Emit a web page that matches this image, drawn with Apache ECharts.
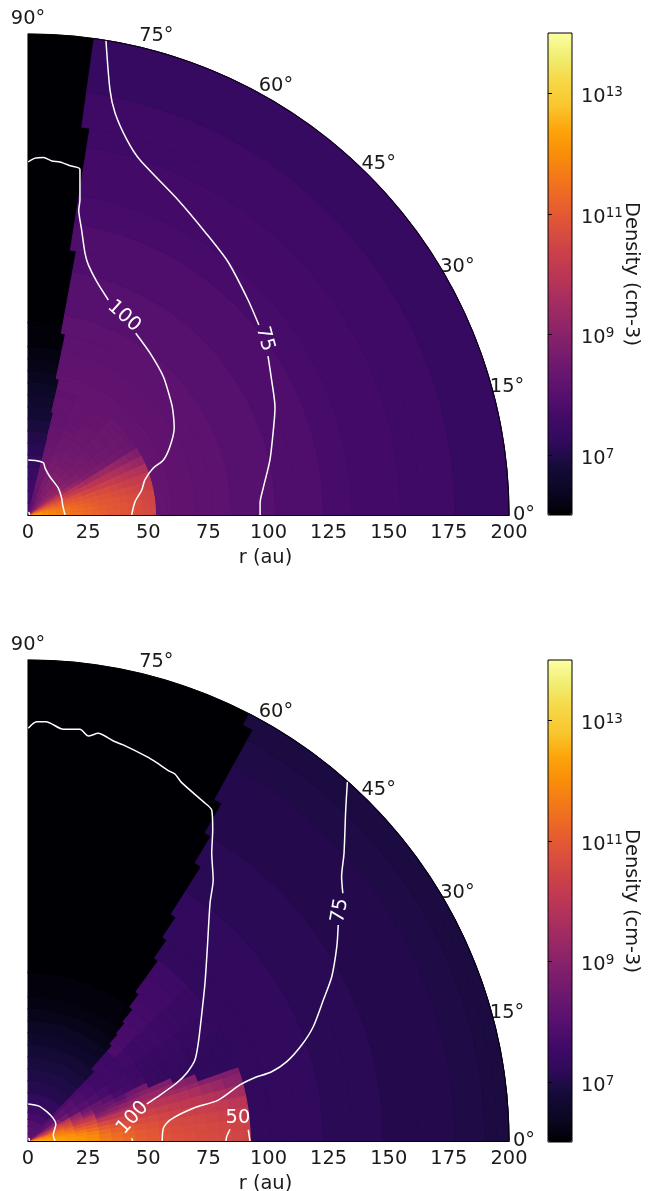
<!DOCTYPE html>
<html><head><meta charset="utf-8">
<style>html,body{margin:0;padding:0;background:#fff}#c{width:658px;height:1191px}</style>
<script src="https://cdn.jsdelivr.net/npm/echarts@6/dist/echarts.min.js"></script>
</head><body><div id="c"></div>
<script>
// ---------- shared ticks ----------
const radiusTicks=[0,25,50,75,100,125,150,175,200];
const angleTicks=[0,15,30,45,60,75,90];
const colorbarTicks=[7,9,11,13];
const infernoStops=['#000004','#0b0724','#160b39','#2f0a5b','#420a68','#57106e','#6a176e','#7e1e6c','#932667','#a82e5f','#bc3754','#cc4248','#dd513a','#ea632a','#f37819','#f98e09','#fca50a','#f9c72f','#f6d746','#f1ed71','#fcffa4'];

// ---------- top panel: log10 density ----------
const topConeR=[0,5,10,15,20,25,30,35,40,45,50,55,60,65,70,80,200];
const topConeLog=[7.75,7.6,7.5,7.42,7.3,7.12,7.0,6.85,6.7,6.58,6.45,6.35,6.25,6.15,6.08,6.0];
const topEdgeR=[0,33,44,58,76.8,111.6,162.9,200];
const topEdgeDeg=[75.6,76,77,78.3,79.6,80.9,82.1];
const topEnvR=[53,60,70,84.7,103,122.8,134.6,155,177.6,200];
const topEnvLog=[8.25,8.18,8.1,7.98,7.85,7.7,7.62,7.52,7.35];
const topDiskR=[0,3,6,9,12,15,18,21,24,27,30,33,36,39,42,45,48,51,53];
const topDiskDeg=[0,4,8,12,16,20,24,28,32,36,42,50,60,68,90];
const topDiskLog=[
[12.5,12.45,12.3,12.1,11.7,11.3,11,10.7,10.2,9.6,9.0,8.6,8.4,8.1],
[12.4,12.3,12.2,12,11.6,11.25,11,10.6,10.1,9.5,9.0,8.6,8.4,8.1],
[12.1,12,11.9,11.8,11.5,11.2,10.9,10.5,10,9.4,9.05,8.7,8.5,8.2],
[11.9,11.85,11.75,11.6,11.35,11.1,10.8,10.4,9.95,9.35,9.05,8.8,8.6,8.3],
[11.75,11.7,11.6,11.45,11.25,11,10.65,10.3,9.8,9.25,9,8.85,8.7,8.4],
[11.6,11.55,11.5,11.3,11.1,10.85,10.5,10.1,9.6,9.15,8.95,8.85,8.7,8.45],
[11.5,11.45,11.35,11.2,11,10.75,10.35,9.95,9.4,9,8.85,8.8,8.7,8.5],
[11.4,11.35,11.25,11.1,10.9,10.7,10.2,9.8,9.2,8.85,8.75,8.7,8.65,8.5],
[11.3,11.25,11.15,11,10.8,10.5,10.1,9.6,9,8.8,8.65,8.6,8.6,8.45],
[11.2,11.15,11.05,10.9,10.75,10.4,10,9.45,8.85,8.7,8.6,8.55,8.5,8.4],
[11.1,11.05,10.95,10.85,10.65,10.35,9.95,9.45,8.75,8.6,8.55,8.5,8.45,8.35],
[11,10.95,10.9,10.8,10.6,10.3,9.85,9.4,8.7,8.55,8.5,8.45,8.4,8.3],
[10.95,10.9,10.85,10.7,10.5,10.2,9.8,9.35,8.65,8.5,8.45,8.4,8.35,8.3],
[10.85,10.85,10.75,10.65,10.4,10.1,9.7,9.25,8.6,8.5,8.45,8.35,8.3,8.25],
[10.8,10.75,10.7,10.55,10.3,10.0,9.6,9.15,8.55,8.45,8.4,8.35,8.3,8.25],
[10.7,10.7,10.6,10.45,10.2,9.9,9.45,9.05,8.5,8.45,8.4,8.3,8.3,8.25],
[10.6,10.55,10.5,10.35,10.15,9.8,9.3,8.9,8.45,8.4,8.35,8.3,8.3,8.25],
[10.55,10.5,10.45,10.3,10.1,9.75,9.2,8.8,8.35,8.35,8.35,8.3,8.3,8.2]
];

// ---------- bottom panel: log10 density ----------
const botConeR=[0,3,6,9,12,15,20,25,30,35,40,45,50,55,60,70,200];
const botConeLog=[8.1,8.0,7.9,7.65,7.45,7.25,7.05,6.95,6.85,6.72,6.55,6.4,6.28,6.18,6.1,6.0];
const botEdgeR=[0,40,53,58,63.5,70,76.6,92.5,101.7,111.7,135,147.8,162,195,200];
const botEdgeDeg=[46,48.5,49.8,50.5,51.4,52.8,54.1,55.3,56.5,57.7,59,60.1,61.3,62.6];
const botEnvR=[92.4,100.6,122.8,147.7,177.6,190,200];
const botEnvLog=[7.27,7.25,7.12,7.03,6.95,6.88];
const botDiskR=[0,3,6,9,12,16,20,25,30,35,40,45,50,55,60,65,70,75,80,85,90,92.4];
const botDiskDeg=[0,3,6,9,12,15,18,19.5,22,24,26.5,30,36,44,62];
const botDiskLog=[
[12.6,12.6,12.5,12.3,12,11.8,11.4,11,10.7,10.4,10,9.4,8.5,8.2],
[12.6,12.5,12.4,12.2,12,11.7,11.3,10.9,10.6,10.3,9.9,9.2,8.3,8.1],
[12.5,12.4,12.3,12.1,11.9,11.6,11.1,10.7,10.4,10.1,9.8,9.0,8.1,8.0],
[12.4,12.35,12.2,12,11.8,11.6,11.3,11,10.6,10.2,9.8,9.0,8.2,8.0],
[12.35,12.3,12.2,12,11.8,11.6,11.4,11.2,10.9,10.6,10.2,9.0,8.2,7.95],
[12.25,12.2,12.1,11.9,11.6,11.3,11,10.8,10.6,10.4,9.9,8.6,8.2,7.9],
[12.15,12.1,11.95,11.65,11.2,10.75,10.4,10.1,9.8,9.55,9.2,8.2,8.0,7.85],
[12,11.95,11.75,11.4,11,10.6,10.25,10,9.4,8.9,8.5,8.0,7.8,7.75],
[11.65,11.55,11.35,11.05,10.6,10,9.35,8.9,8.55,8.45,8.3,7.85,7.7,7.65],
[11.45,11.35,11.15,10.9,10.5,10,9.4,9,8.65,8.4,8.05,7.75,7.6,7.6],
[11.3,11.2,11,10.75,10.5,10,9.5,9.1,8.6,8.15,7.75,7.6,7.55,7.55],
[11.05,11,10.85,10.65,10.4,10.05,9.6,9.2,8.8,8.5,7.65,7.55,7.5,7.5],
[10.95,10.9,10.8,10.6,10.35,10.05,9.6,9.3,8.95,8.6,7.55,7.5,7.6,7.8],
[10.85,10.8,10.7,10.5,10.25,9.95,9.55,9.25,8.9,7.38,7.38,7.42,7.5,7.75],
[10.75,10.7,10.6,10.4,10.15,9.85,9.45,9.15,8.8,7.35,7.35,7.4,7.5,7.7],
[10.7,10.65,10.55,10.35,10.05,9.75,9.35,9,7.33,7.33,7.35,7.4,7.5,7.65],
[10.65,10.6,10.5,10.3,10,9.65,9.2,8.85,7.3,7.3,7.32,7.38,7.48,7.62],
[10.6,10.55,10.45,10.25,9.85,9.45,8.95,7.25,7.25,7.25,7.28,7.35,7.45,7.6],
[10.55,10.5,10.35,10.15,9.75,9.3,8.85,7.22,7.22,7.22,7.25,7.33,7.42,7.55],
[10.5,10.45,10.25,10,9.6,9.05,8.8,7.22,7.22,7.22,7.22,7.3,7.4,7.5],
[10.45,10.4,10.2,9.95,9.5,9,8.75,7.22,7.22,7.22,7.22,7.3,7.4,7.5]
];

// ---------- contours, points in au [x, z] ----------
const top75a=[[32.4,197.5],[34.1,176.7],[36.2,167.2],[41.2,155.9],[46.6,147.6],[62.4,131],[73.6,117.7],[83.2,105.2],[91.5,89.4],[96,79]];
const top75b=[[99.8,66.1],[101.3,56.1],[102.7,44.9],[102.3,38.3],[100.6,22.9],[97.8,11.2],[96.5,5],[96.5,0]];
const top100a=[[0.1,146.8],[2.9,148.4],[6.4,148.7],[9.9,147.2],[13.3,146.8],[17.5,145.2],[21.6,143.7],[21.6,131],[21.1,126.8],[22.3,118.5],[23.7,108.9],[25.1,104],[28.6,97],[33.4,89.4]];
const top100b=[[44.8,75.6],[50.7,67.4],[56.3,57.5],[59.3,47.8],[60.2,43.7],[60.8,36.2],[59,28.4],[56.3,22.9],[52.1,19.5],[48.6,14.6],[47.3,10.4],[44.5,5.5],[43.1,0]];
const topInner=[[0.1,22.9],[3.6,22.6],[6.4,21.7],[7.1,19.5],[9.1,15.9],[12.6,11.2],[14,7],[14.4,4.2],[15.4,0]];
const topCore=[[0.1,1],[0.5,0.9],[0.6,0]];
const bot75a=[[132.8,149.4],[132.1,137.6],[131.4,119.6],[130.4,109.9],[130.9,103]];
const bot75b=[[129,89.8],[128.4,80.8],[126.3,68.3],[122.8,58.6],[118.6,47.5],[113.8,39.9],[107.6,33],[101.3,28.8],[93.7,26.1],[88.1,23.3],[79.1,17],[68.7,13.6],[59,8.7],[56.3,5.3],[55.8,0]];
const bot100a=[[0.1,171.6],[3.6,174.3],[7.5,174.3],[14.7,171.2],[21.6,171.2],[25.1,168.4],[29.2,169.5],[35.5,166.3],[39.6,164.7],[49.4,159.8],[53.5,157.3],[58.3,154],[61.1,152.6],[63.9,149],[72.9,141.1],[76.4,137.6],[76.8,129.3],[76.4,119.8],[77,108.5],[75.7,99],[74.6,80.8],[73.6,65.7],[72.2,52.4],[70.8,40.7],[69.4,33.7],[66,28.3],[61.8,24.1],[54.9,19.1],[49.4,15.4]];
const bot100b=[[43.1,1.1],[43.5,0]];
const botInner=[[0.1,15.4],[4.3,14.6],[7.8,12.2],[10.5,9.4],[11.6,7],[10.5,2.5],[11.2,0]];
const botCore=[[0.1,1],[0.5,0.9],[0.6,0]];
const bot50a=[[84,4.9],[82.6,1.8],[82.3,0]];
const bot50b=[[91.6,4.6],[92.3,0]];
const topContours=[top75a,top75b,top100a,top100b,topInner,topCore];
const botContours=[bot75a,bot75b,bot100a,bot100b,botInner,botCore,bot50a,bot50b];
const topLabels=[['100',39.9,82.7,-42],['75',98.5,73.2,-75]];
const botLabels=[['100',43.5,9.6,48],['75',129.7,95.8,80],['50',87.3,9.6,0]];

// ---------- build ----------
function pick(edges,vals,r){for(let i=0;i<vals.length;i++){if(r<edges[i+1])return vals[i];}return vals[vals.length-1];}
function merged(a,b,lo,hi){return [...new Set(a.concat(b))].filter(v=>v>=lo&&v<=hi).sort((x,y)=>x-y);}
function buildCells(p){
  const cells=[];
  for(let i=0;i<p.coneLog.length;i++)cells.push([p.coneR[i],p.coneR[i+1],0,90,p.coneLog[i]]);
  const outer=merged(p.envR,p.edgeR,p.envR[0],200);
  for(let i=0;i<outer.length-1;i++){
    const m=(outer[i]+outer[i+1])/2;
    cells.push([outer[i],outer[i+1],0,pick(p.edgeR,p.edgeDeg,m),pick(p.envR,p.envLog,m)]);
  }
  const inner=merged(p.diskR,p.edgeR,0,p.envR[0]);
  for(let i=0;i<inner.length-1;i++){
    const m=(inner[i]+inner[i+1])/2, lim=pick(p.edgeR,p.edgeDeg,m);
    let row=p.diskR.length-2;
    for(let k=0;k<p.diskR.length-1;k++){if(m<p.diskR[k+1]){row=k;break;}}
    for(let c=0;c<p.diskDeg.length-1;c++){
      const t0=p.diskDeg[c],t1=Math.min(p.diskDeg[c+1],lim);
      if(t0>=lim)break;
      cells.push([inner[i],inner[i+1],t0,t1,p.diskLog[row][c]]);
    }
  }
  return cells;
}
const toPolar=pts=>pts.map(([x,z])=>[Math.hypot(x,z),Math.atan2(z,x)*180/Math.PI]);

const topCells=buildCells({coneR:topConeR,coneLog:topConeLog,edgeR:topEdgeR,edgeDeg:topEdgeDeg,envR:topEnvR,envLog:topEnvLog,diskR:topDiskR,diskDeg:topDiskDeg,diskLog:topDiskLog});
const botCells=buildCells({coneR:botConeR,coneLog:botConeLog,edgeR:botEdgeR,edgeDeg:botEdgeDeg,envR:botEnvR,envLog:botEnvLog,diskR:botDiskR,diskDeg:botDiskDeg,diskLog:botDiskLog});

const FONT='DejaVu Sans', INK='#1a1a1a', SIZE=19.4;
function renderCell(params,api){
  const a=api.coord([api.value(0),api.value(2)]);
  const b=api.coord([api.value(1),api.value(3)]);
  const color=api.visual('color');
  return {type:'sector',silent:true,shape:{cx:params.coordSys.cx,cy:params.coordSys.cy,r0:a[2],r:b[2],startAngle:-b[3],endAngle:-a[3],clockwise:true},
    style:{fill:color,stroke:color,lineWidth:1.1}};
}
const polars=[],angleAxes=[],radiusAxes=[],series=[],visualMaps=[],grids=[],xAxes=[],yAxes=[];
[[515,topCells,topContours,topLabels,33],[1141,botCells,botContours,botLabels,660]].forEach(([cy,cells,contours,labels,barTop],idx)=>{
  polars.push({center:[28,cy],radius:[0,481]});
  angleAxes.push({polarIndex:idx,type:'value',min:0,max:90,interval:15,startAngle:0,endAngle:90,clockwise:false,z:10,
    axisLine:{show:true,lineStyle:{color:'#000',width:0.8}},axisTick:{show:false},splitLine:{show:false},axisLabel:{show:false}});
  radiusAxes.push({polarIndex:idx,type:'value',min:0,max:200,interval:25,z:10,
    axisLine:{show:true,lineStyle:{color:'#000',width:1}},axisTick:{show:false},splitLine:{show:false},
    axisLabel:{margin:-27,color:INK,fontFamily:FONT,fontSize:SIZE,customValues:radiusTicks,hideOverlap:false},
    name:'r (au)',nameLocation:'middle',nameGap:33,nameTextStyle:{color:INK,fontFamily:FONT,fontSize:SIZE,padding:[0,6,0,0]}});
  const heatIndex=series.length;
  series.push({type:'custom',coordinateSystem:'polar',polarIndex:idx,data:cells,renderItem:renderCell,silent:true,animation:false,z:2,clip:false});
  contours.forEach(c=>series.push({type:'line',coordinateSystem:'polar',polarIndex:idx,data:toPolar(c),showSymbol:false,symbol:'none',smooth:0.25,silent:true,animation:false,z:5,clip:false,lineStyle:{color:'#fff',width:1.5}}));
  series.push({type:'scatter',coordinateSystem:'polar',polarIndex:idx,symbolSize:0,silent:true,animation:false,z:6,clip:false,itemStyle:{opacity:1},
    data:labels.map(([t,x,z,rot])=>({value:toPolar([[x,z]])[0],label:{show:true,position:'inside',formatter:t,rotate:rot,color:'#fff',fontFamily:FONT,fontSize:SIZE}}))});
  series.push({type:'scatter',coordinateSystem:'polar',polarIndex:idx,symbolSize:0,silent:true,animation:false,z:6,clip:false,itemStyle:{opacity:1},
    data:angleTicks.map(t=>({value:[206.2,t],label:{show:true,position:'inside',formatter:t+'°',color:INK,fontFamily:FONT,fontSize:SIZE}}))});
  visualMaps.push({type:'continuous',seriesIndex:heatIndex,dimension:4,min:6,max:14,calculable:false,show:true,left:548,top:barTop,padding:0,itemWidth:24,itemHeight:482,inRange:{color:infernoStops},textStyle:{color:'transparent'}});
  grids.push({left:548,top:barTop,width:24,height:482,show:true,backgroundColor:'transparent',borderColor:'#000',borderWidth:1,z:10});
  xAxes.push({gridIndex:idx,type:'value',show:false,min:0,max:1});
  yAxes.push({gridIndex:idx,type:'value',position:'right',min:6,max:14,z:11,
    axisLine:{show:false},splitLine:{show:false},
    axisTick:{show:true,length:4,lineStyle:{color:'#000'},customValues:colorbarTicks},
    axisLabel:{margin:9,padding:[8,0,0,0],customValues:colorbarTicks,formatter:v=>'10{sup|'+v+'}',color:INK,fontFamily:FONT,fontSize:SIZE,
      rich:{sup:{fontFamily:FONT,fontSize:13.5,color:INK,verticalAlign:'bottom',padding:[0,0,9,0]}}},
    name:'Density (cm-3)',nameLocation:'middle',nameRotate:-90,nameGap:50,nameMoveOverlap:false,nameTextStyle:{color:INK,fontFamily:FONT,fontSize:SIZE}});
});
const chart=echarts.init(document.getElementById('c'),null,{renderer:'canvas'});
chart.setOption({animation:false,backgroundColor:'#fff',polar:polars,angleAxis:angleAxes,radiusAxis:radiusAxes,grid:grids,xAxis:xAxes,yAxis:yAxes,visualMap:visualMaps,series:series});
</script></body></html>
